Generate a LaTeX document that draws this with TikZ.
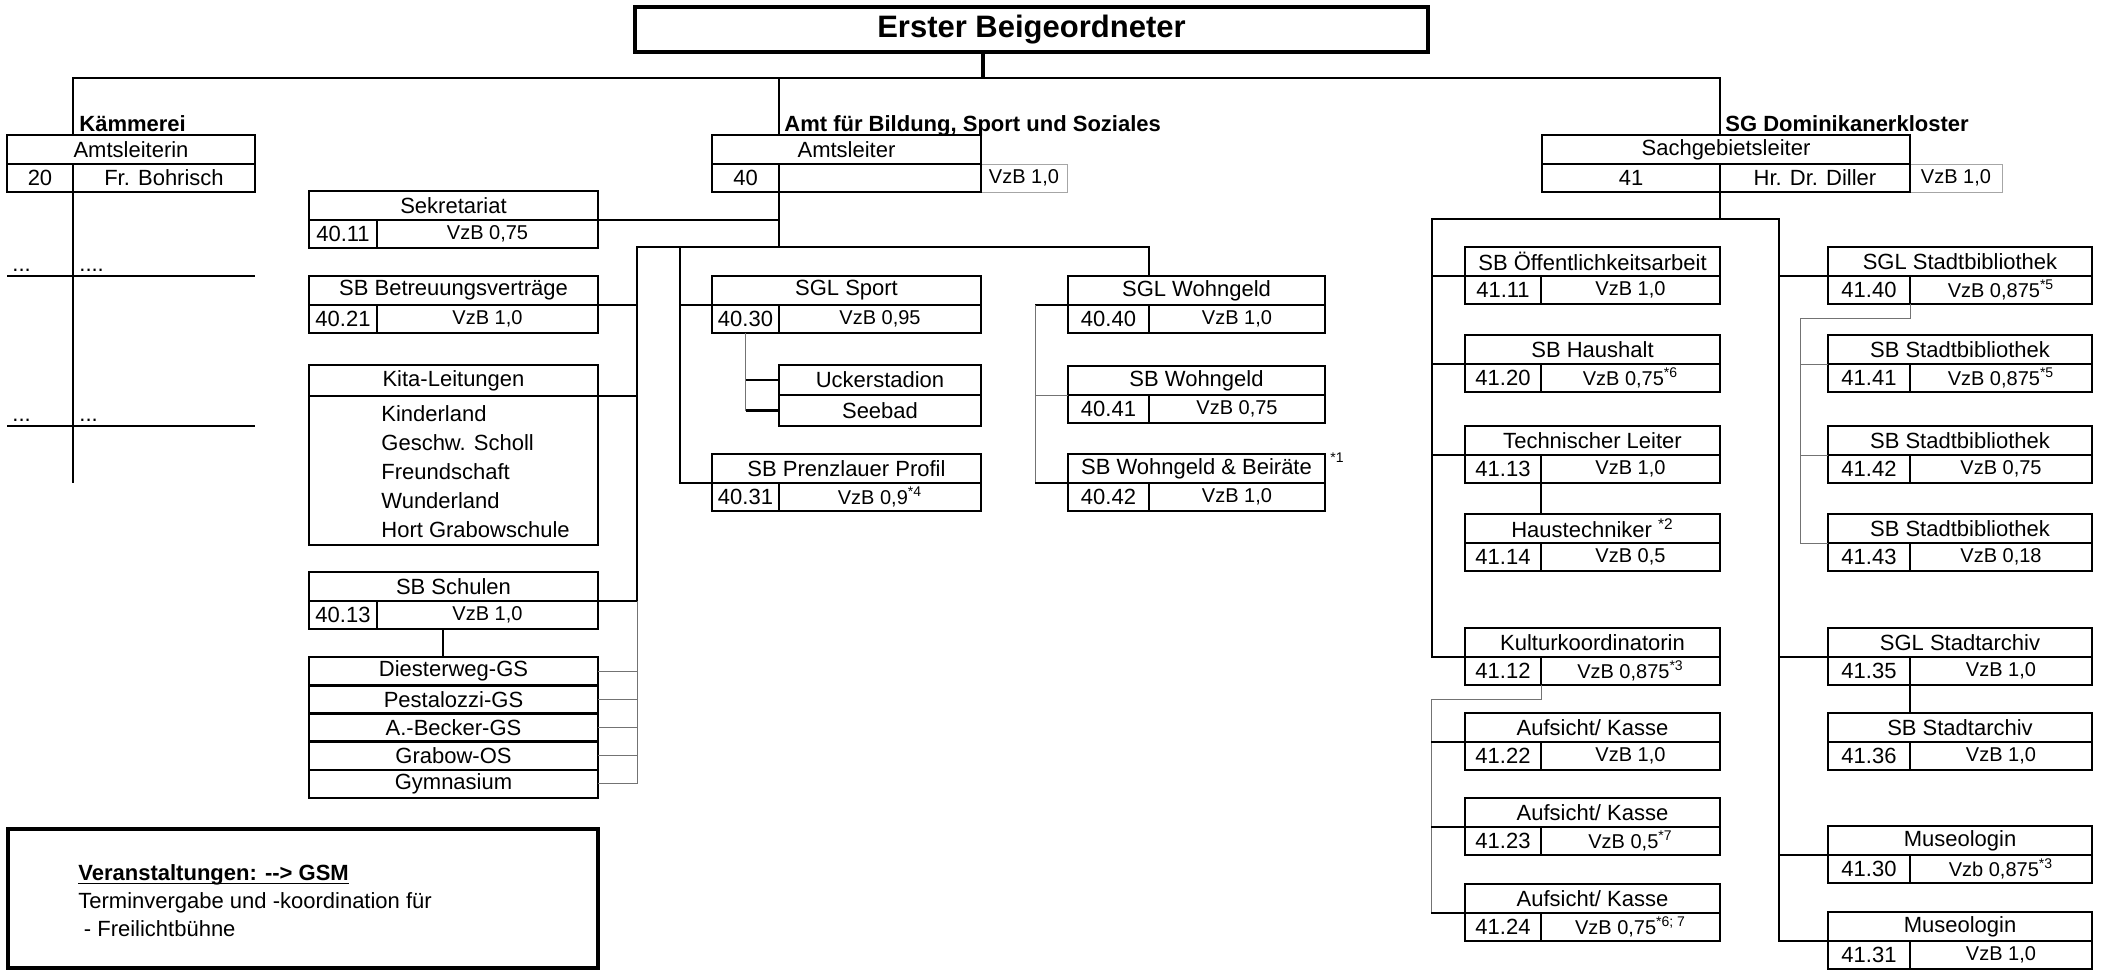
\documentclass[tikz,border=0pt]{standalone}
\usepackage{fontspec}
\setmainfont{Liberation Sans}
\usepackage{tikz}

\newcommand{\pxmass}{0.5pt}
\newcommand{\normschrift}{\fontsize{11}{13}\selectfont}
\newcommand{\vzbschrift}{\fontsize{10}{12}\selectfont}
\newcommand{\stelle}[8]{%
  \node[kopf, minimum width={(#4-#2)*\pxmass}] (#1) at (#2,#5) {#6};
  \node[zelle, minimum width={(#3-#2)*\pxmass}] (#1-nr) at (#2,#5+29) {#7};
  \node[zelle, font=\vzbschrift, minimum width={(#4-#3)*\pxmass}] (#1-vzb) at (#3,#5+29) {#8};
}

\begin{document}
\begin{tikzpicture}[x=\pxmass, y=-\pxmass,
            kopf/.style={draw, rectangle, line width=1.3pt, anchor=north west, inner sep=0pt, outer sep=0pt, minimum height=29*\pxmass, font=\normschrift},
            zelle/.style={kopf, minimum height=28*\pxmass},
            zusatz/.style={draw=black!35, line width=0.5pt, anchor=north west, inner sep=0pt, outer sep=0pt, minimum height=28*\pxmass, font=\vzbschrift},
            abteilung/.style={anchor=base west, inner sep=0pt, font=\normschrift\bfseries},
            punkte/.style={anchor=base west, inner sep=0pt, font=\normschrift},
            stern/.style={anchor=north west, inner sep=0pt, font=\fontsize{7}{8}\selectfont},
            linie/.style={line width=1.3pt},
            duenn/.style={line width=0.5pt, black!55}]

            \useasboundingbox (0,0) rectangle (2106,971);

            \node[kopf, line width=2pt, minimum width=793*\pxmass, minimum height=45*\pxmass, font=\fontsize{15.5}{18}\selectfont\bfseries] (ersb) at (635,7) {Erster Beigeordneter};

            % Kaemmerei
            \node[abteilung] (kaem-titel) at (79,131) {Kämmerei};
            \node[kopf, minimum width=248*\pxmass] (kaem) at (7,135) {Amtsleiterin};
            \node[zelle, minimum width=66*\pxmass] (kaem-nr) at (7,164) {20};
            \node[zelle, minimum width=182*\pxmass] (kaem-name) at (73,164) {Fr. Bohrisch};
            \node[punkte] (k20-p1) at (12,271) {...};
            \node[punkte] (k20-p2) at (79,271) {....};
            \node[punkte] (k20-p3) at (12,421) {...};
            \node[punkte] (k20-p4) at (79,421) {...};
            \coordinate (k20-ende) at (73,483);
            \coordinate (k20-l1) at (7,276);
            \coordinate (k20-r1) at (255,276);
            \coordinate (k20-l2) at (7,426);
            \coordinate (k20-r2) at (255,426);

            % Amt 40
            \node[abteilung] (amt-titel) at (784,131) {Amt für Bildung, Sport und Soziales};
            \node[zusatz, minimum width=86*\pxmass] (amtsl-zus) at (981,164) {VzB 1,0};
            \node[kopf, minimum width=269*\pxmass] (amtsl) at (712,135) {Amtsleiter};
            \node[zelle, minimum width=67*\pxmass] (amtsl-nr) at (712,164) {40};
            \node[zelle, minimum width=202*\pxmass] (amtsl-name) at (779,164) {};

            \stelle{sekr}{309}{377}{598}{191}{Sekretariat}{40.11}{VzB 0,75}
            \stelle{betr}{309}{377}{598}{276}{SB Betreuungsverträge}{40.21}{VzB 1,0}
            \node[kopf, minimum width=289*\pxmass, minimum height=31*\pxmass] (kita) at (309,365) {Kita-Leitungen};
            \node[kopf, minimum width=289*\pxmass, minimum height=149*\pxmass] (kita-liste) at (309,396) {};
            \node[anchor=north west, inner sep=0pt, align=left, font=\fontsize{11}{14.5}\selectfont] (kita-namen) at (381,405) {Kinderland\\Geschw. Scholl\\Freundschaft\\Wunderland\\Hort Grabowschule};
            \stelle{schul}{309}{377}{598}{572}{SB Schulen}{40.13}{VzB 1,0}
            \node[kopf, minimum width=289*\pxmass, minimum height=28.2*\pxmass] (dies) at (309,657) {Diesterweg-GS};
            \node[kopf, minimum width=289*\pxmass, minimum height=28.2*\pxmass] (pest) at (309,685.2) {Pestalozzi-GS};
            \node[kopf, minimum width=289*\pxmass, minimum height=28.2*\pxmass] (beck) at (309,713.4) {A.-Becker-GS};
            \node[kopf, minimum width=289*\pxmass, minimum height=28.2*\pxmass] (grab) at (309,741.6) {Grabow-OS};
            \node[kopf, minimum width=289*\pxmass, minimum height=28.2*\pxmass] (gym) at (309,769.8) {Gymnasium};

            \stelle{sport}{712}{779}{981}{276}{SGL Sport}{40.30}{VzB 0,95}
            \node[kopf, minimum width=202*\pxmass, minimum height=30*\pxmass] (ucker) at (779,365) {Uckerstadion};
            \node[kopf, minimum width=202*\pxmass, minimum height=31*\pxmass] (seebad) at (779,395) {Seebad};
            \stelle{prenz}{712}{779}{981}{454}{SB Prenzlauer Profil}{40.31}{VzB 0,9\textsuperscript{*4}}

            \stelle{wohn}{1068}{1149}{1325}{276}{SGL Wohngeld}{40.40}{VzB 1,0}
            \stelle{sbwohn}{1068}{1149}{1325}{366}{SB Wohngeld}{40.41}{VzB 0,75}
            \stelle{beir}{1068}{1149}{1325}{454}{SB Wohngeld \& Beiräte}{40.42}{VzB 1,0}
            \node[stern] (beir-stern) at (1330,452) {*1};

            \node[kopf, line width=2pt, minimum width=590*\pxmass, minimum height=139*\pxmass] (veran) at (8,829) {};
            \node[anchor=north west, inner sep=0pt, align=left, font=\fontsize{11}{14}\selectfont] (veran-text) at (78,864) {\underline{\raisebox{0pt}[\height][0pt]{\textbf{Veranstaltungen: -{}-> GSM}}}\\Terminvergabe und -koordination für\\\hspace*{0.25em}- Freilichtbühne};

            % SG 41
            \node[abteilung] (dom-titel) at (1725,131) {SG Dominikanerkloster};
            \node[zusatz, minimum width=92*\pxmass] (dom-zus) at (1910,164) {VzB 1,0};
            \node[kopf, minimum width=368*\pxmass] (dom) at (1542,135) {Sachgebietsleiter};
            \node[zelle, minimum width=178*\pxmass] (dom-nr) at (1542,164) {41};
            \node[zelle, minimum width=190*\pxmass] (dom-name) at (1720,164) {Hr. Dr. Diller};

            \stelle{oeff}{1465}{1541}{1720}{247}{SB Öffentlichkeitsarbeit}{41.11}{VzB 1,0}
            \stelle{haus}{1465}{1541}{1720}{335}{SB Haushalt}{41.20}{VzB 0,75\textsuperscript{*6}}
            \stelle{tech}{1465}{1541}{1720}{426}{Technischer Leiter}{41.13}{VzB 1,0}
            \stelle{haust}{1465}{1541}{1720}{514}{Haustechniker \textsuperscript{*2}}{41.14}{VzB 0,5}
            \stelle{kult}{1465}{1541}{1720}{628}{Kulturkoordinatorin}{41.12}{VzB 0,875\textsuperscript{*3}}
            \stelle{auf1}{1465}{1541}{1720}{713}{Aufsicht/ Kasse}{41.22}{VzB 1,0}
            \stelle{auf2}{1465}{1541}{1720}{798}{Aufsicht/ Kasse}{41.23}{VzB 0,5\textsuperscript{*7}}
            \stelle{auf3}{1465}{1541}{1720}{884}{Aufsicht/ Kasse}{41.24}{VzB 0,75\textsuperscript{*6; 7}}

            \stelle{sglbib}{1828}{1910}{2092}{247}{SGL Stadtbibliothek}{41.40}{VzB 0,875\textsuperscript{*5}}
            \stelle{bib1}{1828}{1910}{2092}{335}{SB Stadtbibliothek}{41.41}{VzB 0,875\textsuperscript{*5}}
            \stelle{bib2}{1828}{1910}{2092}{426}{SB Stadtbibliothek}{41.42}{VzB 0,75}
            \stelle{bib3}{1828}{1910}{2092}{514}{SB Stadtbibliothek}{41.43}{VzB 0,18}
            \stelle{arch}{1828}{1910}{2092}{628}{SGL Stadtarchiv}{41.35}{VzB 1,0}
            \stelle{sbarch}{1828}{1910}{2092}{713}{SB Stadtarchiv}{41.36}{VzB 1,0}
            \stelle{mus1}{1828}{1910}{2092}{826}{Museologin}{41.30}{Vzb 0,875\textsuperscript{*3}}
            \stelle{mus2}{1828}{1910}{2092}{912}{Museologin}{41.31}{VzB 1,0}

            % Verbindungen
            \coordinate (oben) at (983,78);
            \coordinate (k20) at (kaem.north -| kaem-nr.east);
            \coordinate (k40) at (amtsl.north -| amtsl-nr.east);
            \coordinate (k41) at (dom.north -| dom-nr.east);
            \draw[line width=1.6pt] (ersb.south -| oben) -- (oben);
            \draw[linie] (k20) |- (oben) -| (k41);
            \draw[linie] (k40) -- (k40 |- oben);

            \draw[linie] (kaem-nr.south east) -- (k20-ende);
            \draw[linie] (k20-l1) -- (k20-r1);
            \draw[linie] (k20-l2) -- (k20-r2);

            \coordinate (v40) at (779,247);
            \coordinate (s40) at (637,247);
            \coordinate (s40b) at (680,247);
            \coordinate (k40s) at (443,629);
            \coordinate (k40w) at (1035,305);
            \draw[linie] (amtsl-nr.south east) -- (v40);
            \draw[linie] (sekr.south east) -| (v40);
            \draw[linie] (wohn.north -| wohn-nr.east) |- (s40) |- (schul.south east);
            \draw[linie] (betr.south east) -- (betr.south east -| s40);
            \draw[linie] (kita.south east) -- (kita.south east -| s40);
            \draw[linie] (s40b) |- (prenz.south west);
            \draw[linie] (sport.south west) -- (sport.south west -| s40b);
            \draw[linie] (k40s) -- (k40s |- dies.north);
            \draw[duenn] (schul.south east -| s40) |- (gym.east);
            \draw[duenn] (dies.east) -- (dies.east -| s40);
            \draw[duenn] (pest.east) -- (pest.east -| s40);
            \draw[duenn] (beck.east) -- (beck.east -| s40);
            \draw[duenn] (grab.east) -- (grab.east -| s40);
            \draw[duenn] (sport-nr.south) -- (sport-nr.south |- seebad.west);
            \draw[linie] (ucker.west) -- (ucker.west -| sport-nr.south);
            \draw[linie] (seebad.west) -- (seebad.west -| sport-nr.south);
            \draw[linie] (wohn.south west) -- (k40w);
            \draw[duenn] (k40w) -- (k40w |- beir.south west);
            \draw[duenn] (sbwohn.south west) -- (sbwohn.south west -| k40w);
            \draw[linie] (beir.south west) -- (beir.south west -| k40w);

            \coordinate (s41l) at (1432,219);
            \coordinate (s41r) at (1779,219);
            \coordinate (k41k) at (1431,699);
            \coordinate (k41b) at (1800,318);
            \draw[linie] (dom-nr.south east) -- (dom-nr.south east |- s41l);
            \draw[linie] (kult.south west) -| (s41l) -- (s41r) |- (mus2.south west);
            \draw[linie] (oeff.south west) -- (oeff.south west -| s41l);
            \draw[linie] (haus.south west) -- (haus.south west -| s41l);
            \draw[linie] (tech.south west) -- (tech.south west -| s41l);
            \draw[linie] (tech-nr.south east) -- (haust.north -| tech-nr.south east);
            \draw[linie] (sglbib.south west) -- (sglbib.south west -| s41r);
            \draw[linie] (arch.south west) -- (arch.south west -| s41r);
            \draw[linie] (mus1.south west) -- (mus1.south west -| s41r);
            \draw[linie] (arch-nr.south east) -- (sbarch.north -| arch-nr.south east);
            \draw[duenn] (kult-nr.south east) |- (k41k) -- (k41k |- auf3.south west);
            \draw[linie] (auf1.south west) -- (auf1.south west -| k41k);
            \draw[linie] (auf2.south west) -- (auf2.south west -| k41k);
            \draw[linie] (auf3.south west) -- (auf3.south west -| k41k);
            \draw[duenn] (sglbib-nr.south east) |- (k41b) |- (bib3.south west);
            \draw[duenn] (bib1.south west) -- (bib1.south west -| k41b);
            \draw[duenn] (bib2.south west) -- (bib2.south west -| k41b);
        \end{tikzpicture}
\end{document}
